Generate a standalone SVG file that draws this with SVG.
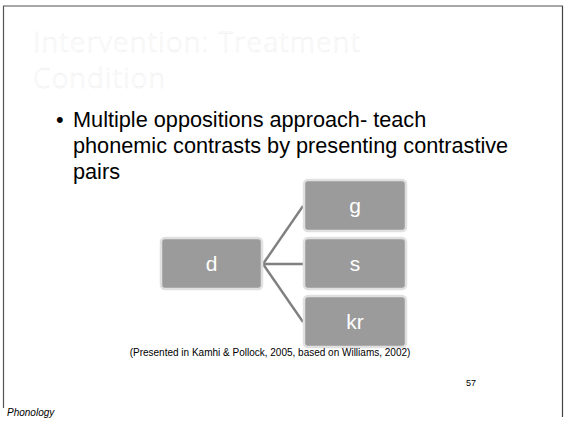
<svg xmlns="http://www.w3.org/2000/svg" width="564" height="424" viewBox="0 0 564 424">
<style>
.title{font-family:"Open Sans","DejaVu Sans",sans-serif;font-weight:300;font-size:28px;fill:#fff;stroke:#ececec;stroke-width:0.4}
.body{font-family:"Liberation Sans",Arial,sans-serif;font-size:21.7px;fill:#000}
.box{fill:#9b9b9b;stroke:#e0e0e0;stroke-width:2.5}
.lbl{font-family:"Liberation Sans",Arial,sans-serif;font-size:21px;fill:#fff;text-anchor:middle}
.conn{stroke:#808080;stroke-width:2.4;fill:none}
.small{font-family:"Liberation Sans",Arial,sans-serif;fill:#000}
</style>
<rect x="0" y="0" width="564" height="424" fill="#fff"/>
<g id="frame" fill="none">
<line x1="3" y1="6" x2="563" y2="6" stroke="#8a8a8a" stroke-width="1.5"/>
<line x1="3.5" y1="6" x2="3.5" y2="408" stroke="#555" stroke-width="1.2"/>
<line x1="562.5" y1="6" x2="562.5" y2="417" stroke="#444" stroke-width="1.2"/>
</g>
<g id="title">
<text class="title" x="33" y="52" textLength="327">Intervention: Treatment</text>
<text class="title" x="33" y="88" textLength="132">Condition</text>
</g>
<g id="bullet">
<text class="body" x="56" y="127">•</text>
<text class="body" x="73" y="127">Multiple oppositions approach- teach</text>
<text class="body" x="73" y="153">phonemic contrasts by presenting contrastive</text>
<text class="body" x="73" y="179">pairs</text>
</g>
<g id="connectors">
<line class="conn" x1="263" y1="264" x2="303" y2="206"/>
<line class="conn" x1="263" y1="264" x2="303" y2="264"/>
<line class="conn" x1="263" y1="264" x2="303" y2="322"/>
</g>
<g id="node-d">
<rect class="box" x="161" y="238" width="101" height="51" rx="4"/>
<text class="lbl" x="211.5" y="271">d</text>
</g>
<g id="node-g">
<rect class="box" x="304" y="180" width="102" height="51" rx="4"/>
<text class="lbl" x="355" y="213">g</text>
</g>
<g id="node-s">
<rect class="box" x="304" y="238" width="102" height="51" rx="4"/>
<text class="lbl" x="355" y="271">s</text>
</g>
<g id="node-kr">
<rect class="box" x="304" y="296" width="102" height="51" rx="4"/>
<text class="lbl" x="355" y="329">kr</text>
</g>
<g id="footer">
<text class="small" x="270" y="356" font-size="10" text-anchor="middle">(Presented in Kamhi &amp; Pollock, 2005, based on Williams, 2002)</text>
<text class="small" x="466" y="386" font-size="9">57</text>
<text class="small" x="7" y="416" font-size="10" font-style="italic">Phonology</text>
</g>
</svg>
